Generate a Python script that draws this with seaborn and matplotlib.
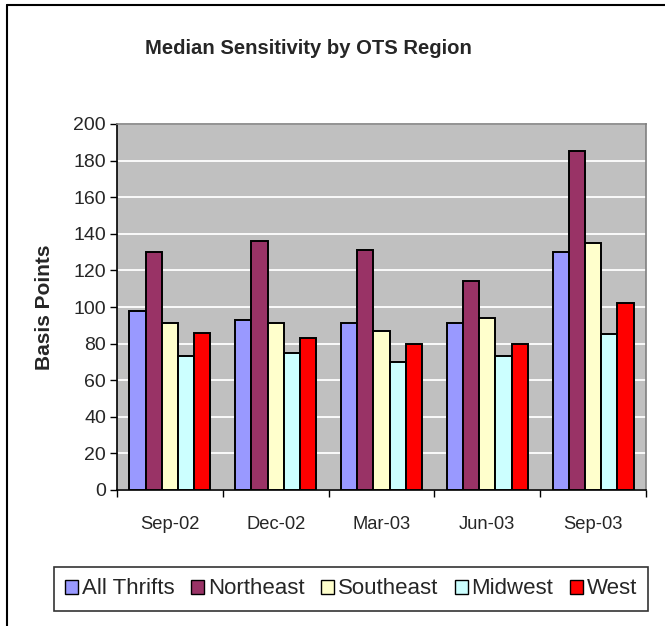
import matplotlib
matplotlib.use("Agg")
import matplotlib.pyplot as plt
import seaborn as sns
import pandas as pd
from matplotlib.lines import Line2D
from matplotlib.ticker import FixedLocator

periods = ["Sep-02", "Dec-02", "Mar-03", "Jun-03", "Sep-03"]
regions = ["All Thrifts", "Northeast", "Southeast", "Midwest", "West"]
all_thrifts = [98, 93, 91, 91, 130]
northeast = [130, 136, 131, 114, 185]
southeast = [91, 91, 87, 94, 135]
midwest = [73, 75, 70, 73, 85]
west = [86, 83, 80, 80, 102]
colors = ["#9999FF", "#993366", "#FFFFCC", "#CCFFFF", "#FF0000"]
yticks = [0, 20, 40, 60, 80, 100, 120, 140, 160, 180, 200]

series = [all_thrifts, northeast, southeast, midwest, west]
rows = []
for reg, vals in zip(regions, series):
    for p, v in zip(periods, vals):
        rows.append({"Period": p, "Region": reg, "Value": v})
df = pd.DataFrame(rows)

sns.set_theme(style="white")
plt.rcParams['font.family'] = ['Liberation Sans', 'DejaVu Sans']

W, H = 665, 626
fig = plt.figure(figsize=(W / 100, H / 100), dpi=100)
ax = fig.add_axes([117 / W, 1 - 490 / H, (646 - 117) / W, (490 - 124) / H])
ax.set_facecolor("#C0C0C0")

sns.barplot(data=df, x="Period", y="Value", hue="Region", order=periods,
            hue_order=regions, palette=colors, width=0.765, ax=ax,
            edgecolor="black", linewidth=1.4, saturation=1, legend=False, zorder=3)

ax.set_ylim(0, 200)
ax.set_xlim(-0.5, 4.5)
ax.set_yticks(yticks)
ax.yaxis.grid(True, color="white", linewidth=1.3, zorder=0)
ax.set_axisbelow(True)
ax.tick_params(axis="y", direction="out", length=5, width=1, color="black",
               labelsize=14, pad=3, left=True)
ax.xaxis.set_minor_locator(FixedLocator([i - 0.5 for i in range(6)]))
ax.tick_params(axis="x", which="major", length=0, labelsize=13.2, pad=19)
ax.tick_params(axis="x", which="minor", direction="out", length=5, width=1,
               color="black", bottom=True)
ax.set_xlabel("")
ax.set_ylabel("Basis Points", fontsize=15, fontweight="bold", labelpad=14)
for s in ["top", "right"]:
    ax.spines[s].set_color("#808080")
    ax.spines[s].set_linewidth(1.2)
for s in ["left", "bottom"]:
    ax.spines[s].set_color("black")
    ax.spines[s].set_linewidth(1.2)

fig.text(308 / W, 1 - 48 / H, "Median Sensitivity by OTS Region",
         ha="center", va="center", fontsize=14.6, fontweight="bold")

handles = [plt.Rectangle((0, 0), 1, 1, facecolor=c, edgecolor="black", linewidth=1)
           for c in colors]
leg = fig.legend(handles, regions, loc="center", bbox_to_anchor=(351 / W, 1 - 589 / H),
                 ncol=5, frameon=True, fontsize=16, handlelength=0.6, handleheight=0.6,
                 handletextpad=0.15, columnspacing=0.75, borderpad=0.5, fancybox=False)
leg.get_frame().set_edgecolor("black")
leg.get_frame().set_linewidth(1.2)

fig.add_artist(Line2D([7 / W, 7 / W], [0, 1 - 5 / H], color="black", linewidth=1.5,
                      transform=fig.transFigure))
fig.add_artist(Line2D([7 / W, 1], [1 - 5 / H, 1 - 5 / H], color="black", linewidth=1.5,
                      transform=fig.transFigure))

fig.savefig("out.png", dpi=100)
